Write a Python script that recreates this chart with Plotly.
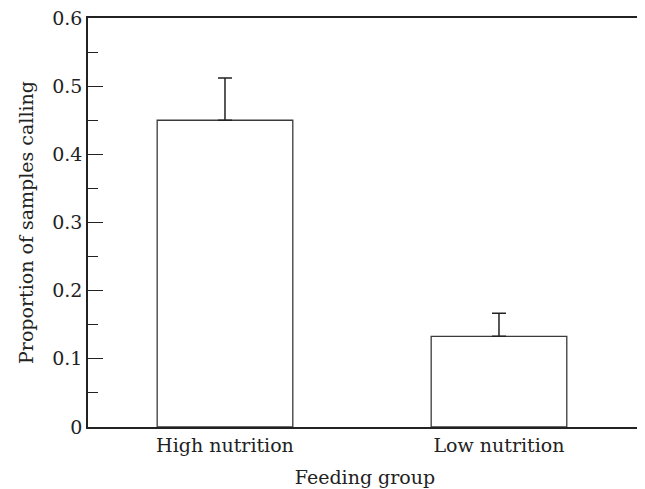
import plotly.graph_objects as go

categories = ["High nutrition", "Low nutrition"]
values = [0.45, 0.133]
errors_up = [0.062, 0.034]
y_ticks = [0, 0.1, 0.2, 0.3, 0.4, 0.5, 0.6]
y_tick_labels = ["0", "0.1", "0.2", "0.3", "0.4", "0.5", "0.6"]

FONT = "DejaVu Serif"
FS = 19

fig = go.Figure()
fig.add_trace(go.Bar(
    x=list(range(len(categories))),
    y=values,
    width=0.495,
    marker=dict(color="white", line=dict(color="#3a3a3a", width=1.3)),
    error_y=dict(type="data", symmetric=False, array=errors_up,
                 arrayminus=[0] * len(values),
                 color="#222", thickness=1.5, width=7),
    showlegend=False,
))

fig.update_layout(
    width=645, height=489,
    margin=dict(l=80, r=11, t=10, b=70),
    paper_bgcolor="white", plot_bgcolor="white",
    font=dict(family=FONT, size=FS, color="#222"),
    xaxis=dict(
        automargin=False,
        range=[-0.5, 1.522],
        tickmode="array", tickvals=list(range(len(categories))), ticktext=categories,
        showline=True, linecolor="#222", linewidth=1.5, mirror=True,
        ticks="", showgrid=False, zeroline=False,
        title=dict(text="Feeding group", standoff=16, font=dict(size=FS)),
        tickfont=dict(size=FS),
    ),
    yaxis=dict(
        automargin=False,
        range=[0, 0.6],
        tickmode="array", tickvals=y_ticks, ticktext=y_tick_labels,
        ticklabeloverflow="allow",
        ticks="inside", ticklen=15, tickwidth=1.3, tickcolor="#222",
        minor=dict(dtick=0.05, ticks="inside", ticklen=10, tickwidth=1.3, tickcolor="#222"),
        showline=True, linecolor="#222", linewidth=1.5, mirror=True,
        showgrid=False, zeroline=False,
        title=dict(text="Proportion of samples calling", standoff=14, font=dict(size=FS)),
        tickfont=dict(size=FS),
    ),
)

fig.write_html("out.html")
